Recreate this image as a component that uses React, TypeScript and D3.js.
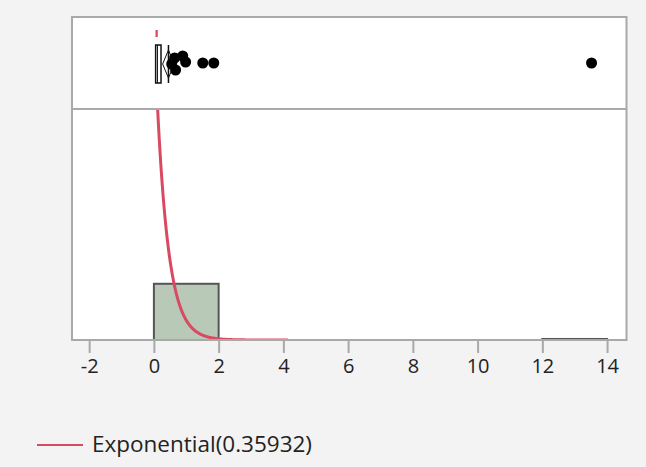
import React, { useEffect, useRef } from 'react';
import * as d3 from 'd3';

const WIDTH = 646;
const HEIGHT = 467;

// histogram (bin edges 0..14 step 2)
const binEdges = [0, 2, 4, 6, 8, 10, 12, 14];
const binCounts = [55, 0, 0, 0, 0, 0, 1];
const sampleSize = 56;

// fitted exponential scale parameter
const sigma = 0.35932;
const fitLabel = 'Exponential(0.35932)';

// outlier box plot summary
const q1 = 0.054;
const median = 0.11;
const q3 = 0.22;
const meanValue = 0.45;
const meanCI = [0.27, 0.63];
const shortestHalf = [0.05, 0.12];
const outliers = [0.64, 0.89, 0.67, 0.55, 0.98, 1.51, 1.85, 13.52];
const outlierJitter = [-5, -7, 7, 1, -1, 0, 0, 0];

const xTicks = [-2, 0, 2, 4, 6, 8, 10, 12, 14];

const FRAME = { left: 72, right: 626.5, top: 17, mid: 109, bottom: 340 };
const RED = '#d94a62';
const FONT = '"Open Sans", "Noto Sans", sans-serif';

export default function App() {
  const ref = useRef<SVGSVGElement>(null);

  useEffect(() => {
    const svg = d3.select(ref.current);
    svg.selectAll('*').remove();

    const x = d3.scaleLinear().domain([-2.53, 14.6]).range([FRAME.left, FRAME.right]);
    const y = d3.scaleLinear().domain([0, 226]).range([FRAME.bottom, FRAME.mid]);

    svg.append('rect').attr('width', WIDTH).attr('height', HEIGHT).attr('fill', '#f3f3f3');

    svg.append('defs').append('clipPath').attr('id', 'plotclip')
      .append('rect')
      .attr('x', FRAME.left).attr('y', FRAME.mid + 1)
      .attr('width', FRAME.right - FRAME.left).attr('height', FRAME.bottom - FRAME.mid - 1);

    svg.append('rect')
      .attr('x', FRAME.left).attr('y', FRAME.top)
      .attr('width', FRAME.right - FRAME.left).attr('height', FRAME.bottom - FRAME.top)
      .attr('fill', '#fff');

    // histogram bars
    const bins = binCounts.map((c, i) => ({ x0: binEdges[i], x1: binEdges[i + 1], c })).filter(b => b.c > 0);
    svg.append('g').selectAll('rect').data(bins).join('rect')
      .attr('x', d => x(d.x0))
      .attr('y', d => y(d.c))
      .attr('width', d => x(d.x1) - x(d.x0))
      .attr('height', d => y(0) - y(d.c))
      .attr('fill', '#b8c9b7')
      .attr('stroke', '#555')
      .attr('stroke-width', 2);

    // fitted density, scaled to counts
    const binW = binEdges[1] - binEdges[0];
    const pts = d3.range(0, 4.15, 0.01).map(v => [v, sampleSize * binW / sigma * Math.exp(-v / sigma)]);
    svg.append('path')
      .attr('clip-path', 'url(#plotclip)')
      .attr('d', d3.line().x(d => x(d[0])).y(d => y(d[1]))(pts as [number, number][]))
      .attr('fill', 'none')
      .attr('stroke', RED)
      .attr('stroke-width', 3);

    // box plot
    const by = 64;
    const bp = svg.append('g');
    bp.append('rect')
      .attr('x', x(q1)).attr('y', 45)
      .attr('width', x(q3) - x(q1)).attr('height', 38)
      .attr('fill', '#fff').attr('stroke', '#111').attr('stroke-width', 1.5);
    bp.append('line')
      .attr('x1', x(median)).attr('x2', x(median)).attr('y1', 45).attr('y2', 83)
      .attr('stroke', '#111').attr('stroke-width', 1);
    bp.append('line')
      .attr('x1', x(meanValue)).attr('x2', x(meanValue)).attr('y1', 45).attr('y2', 83)
      .attr('stroke', '#111').attr('stroke-width', 1.5);
    bp.append('path')
      .attr('d', `M${x(meanCI[0])},${by} L${x(meanValue)},${by - 14} L${x(meanCI[1])},${by} L${x(meanValue)},${by + 14} Z`)
      .attr('fill', 'none').attr('stroke', '#111').attr('stroke-width', 1);
    bp.append('rect')
      .attr('x', x(shortestHalf[0])).attr('y', 30)
      .attr('width', x(shortestHalf[1]) - x(shortestHalf[0])).attr('height', 7)
      .attr('fill', RED);
    bp.selectAll('circle').data(outliers).join('circle')
      .attr('cx', d => x(d))
      .attr('cy', (d, i) => by + outlierJitter[i] - 1)
      .attr('r', 5.5)
      .attr('fill', '#000');

    // frame
    svg.append('rect')
      .attr('x', FRAME.left).attr('y', FRAME.top)
      .attr('width', FRAME.right - FRAME.left).attr('height', FRAME.bottom - FRAME.top)
      .attr('fill', 'none').attr('stroke', '#a9a9a9').attr('stroke-width', 2);
    svg.append('line')
      .attr('x1', FRAME.left).attr('x2', FRAME.right).attr('y1', FRAME.mid).attr('y2', FRAME.mid)
      .attr('stroke', '#a9a9a9').attr('stroke-width', 2);

    // x axis
    const axis = svg.append('g')
      .attr('transform', `translate(0,${FRAME.bottom})`)
      .call(d3.axisBottom(x).tickValues(xTicks).tickSize(13).tickPadding(6).tickFormat(d => String(d)));
    axis.select('.domain').remove();
    axis.selectAll('line').attr('stroke', '#a9a9a9').attr('stroke-width', 2);
    axis.selectAll('text')
      .attr('font-family', FONT)
      .attr('font-size', 20)
      .attr('fill', '#222');

    // legend
    svg.append('line')
      .attr('x1', 37).attr('x2', 83).attr('y1', 445).attr('y2', 445)
      .attr('stroke', RED).attr('stroke-width', 2);
    svg.append('text')
      .attr('x', 92).attr('y', 452)
      .attr('font-family', FONT)
      .attr('font-size', 22)
      .attr('textLength', 220)
      .attr('lengthAdjust', 'spacingAndGlyphs')
      .attr('fill', '#222')
      .text(fitLabel);
  }, []);

  return (
    <svg
      ref={ref}
      width={WIDTH}
      height={HEIGHT}
      style={{ position: 'absolute', left: 0, top: 0, display: 'block' }}
    />
  );
}
